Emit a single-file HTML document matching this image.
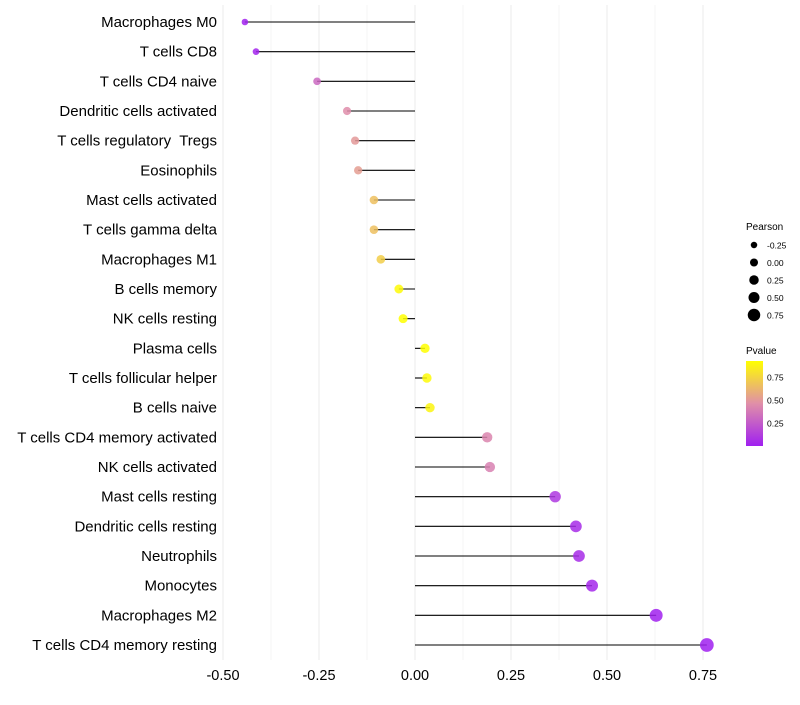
<!DOCTYPE html>
<html><head><meta charset="utf-8"><style>
body{margin:0;background:#fff;font-family:"Liberation Sans",sans-serif}
text{white-space:pre}
</style></head><body>
<svg id="chart" width="800" height="700" xmlns="http://www.w3.org/2000/svg">
<defs><linearGradient id="pg" x1="0" y1="1" x2="0" y2="0">
<stop offset="0" stop-color="#a020f0"/><stop offset="0.5" stop-color="#e08fa8"/><stop offset="1" stop-color="#ffff00"/>
</linearGradient></defs>
<g id="grid"></g><g id="marks"></g><g id="labels"></g>
<g font-size="10">
<text x="746" y="230" font-size="10">Pearson</text>
<g id="sizeLegend"></g>
<text x="746" y="354" font-size="10">Pvalue</text>
<rect x="746" y="361" width="17" height="85" fill="url(#pg)"/>
<g id="colorLegend"></g>
</g>
</svg>
<script>
const categories=["Macrophages M0","T cells CD8","T cells CD4 naive","Dendritic cells activated","T cells regulatory  Tregs","Eosinophils","Mast cells activated","T cells gamma delta","Macrophages M1","B cells memory","NK cells resting","Plasma cells","T cells follicular helper","B cells naive","T cells CD4 memory activated","NK cells activated","Mast cells resting","Dendritic cells resting","Neutrophils","Monocytes","Macrophages M2","T cells CD4 memory resting"];
const pearson=[-0.443,-0.414,-0.255,-0.177,-0.156,-0.148,-0.107,-0.107,-0.089,-0.042,-0.031,0.026,0.031,0.039,0.188,0.195,0.365,0.419,0.427,0.461,0.628,0.76];
const pvalue=[0.01,0.02,0.3,0.45,0.5,0.52,0.66,0.66,0.72,0.9,0.92,0.92,0.9,0.88,0.42,0.4,0.1,0.05,0.05,0.03,0.005,0.0001];
const xTicks=[-0.5,-0.25,0,0.25,0.5,0.75];
const xTickLabels=["-0.50","-0.25","0.00","0.25","0.50","0.75"];
const sizeLegendVals=[-0.25,0,0.25,0.5,0.75];
const sizeLegendLabels=["-0.25","0.00","0.25","0.50","0.75"];
const colorLegendVals=[0.75,0.5,0.25];
const colorLegendLabels=["0.75","0.50","0.25"];
const NS="http://www.w3.org/2000/svg";
const x=v=>415+v*384;
const y=i=>22+i*(623/21);
const r=v=>Math.max(1.8,4.6+3.0*v);
const pY=p=>446-p*92;
function lerp(a,b,t){return a.map((c,i)=>Math.round(c+(b[i]-c)*t));}
function col(p){const t=Math.min(1,Math.max(0,p/0.92));const A=[160,32,240],B=[224,143,168],C=[255,255,0];
const c=t<0.5?lerp(A,B,t/0.5):lerp(B,C,(t-0.5)/0.5);return `rgb(${c})`;}
function mk(tag,at,parent){const e=document.createElementNS(NS,tag);for(const k in at)e.setAttribute(k,at[k]);document.getElementById(parent).appendChild(e);return e;}
for(let v=-0.5;v<=0.751;v+=0.125){const l=mk("line",{x1:x(v),x2:x(v),y1:5,y2:660,stroke:"#ebebeb","stroke-width":Math.abs(v*4-Math.round(v*4))<1e-6?1:0.5},"grid");

}
xTicks.forEach((v,i)=>{const t=mk("text",{x:x(v),y:680,"text-anchor":"middle","font-size":14.5,fill:"#000"},"labels");t.textContent=xTickLabels[i];

});
categories.forEach((c,i)=>{
const t=mk("text",{x:217,y:y(i)+5,"text-anchor":"end","font-size":15,fill:"#000"},"labels");t.textContent=c;


const l=mk("line",{x1:x(0),x2:x(pearson[i]),y1:y(i),y2:y(i),stroke:"#000","stroke-width":1.1},"marks");


const d=mk("circle",{cx:x(pearson[i]),cy:y(i),r:r(pearson[i]),fill:col(pvalue[i]),"fill-opacity":0.85},"marks");


});
sizeLegendVals.forEach((v,i)=>{const cy=245+i*17.5;
const d=mk("circle",{cx:754,cy:cy,r:r(v)-0.6,fill:"#000"},"sizeLegend");


const t=mk("text",{x:767,y:cy+3.5,"font-size":8.5},"sizeLegend");t.textContent=sizeLegendLabels[i];

});
colorLegendVals.forEach((v,i)=>{
const t=mk("text",{x:767,y:pY(v)+3.5,"font-size":8.5},"colorLegend");t.textContent=colorLegendLabels[i];

});
</script>
</body></html>
